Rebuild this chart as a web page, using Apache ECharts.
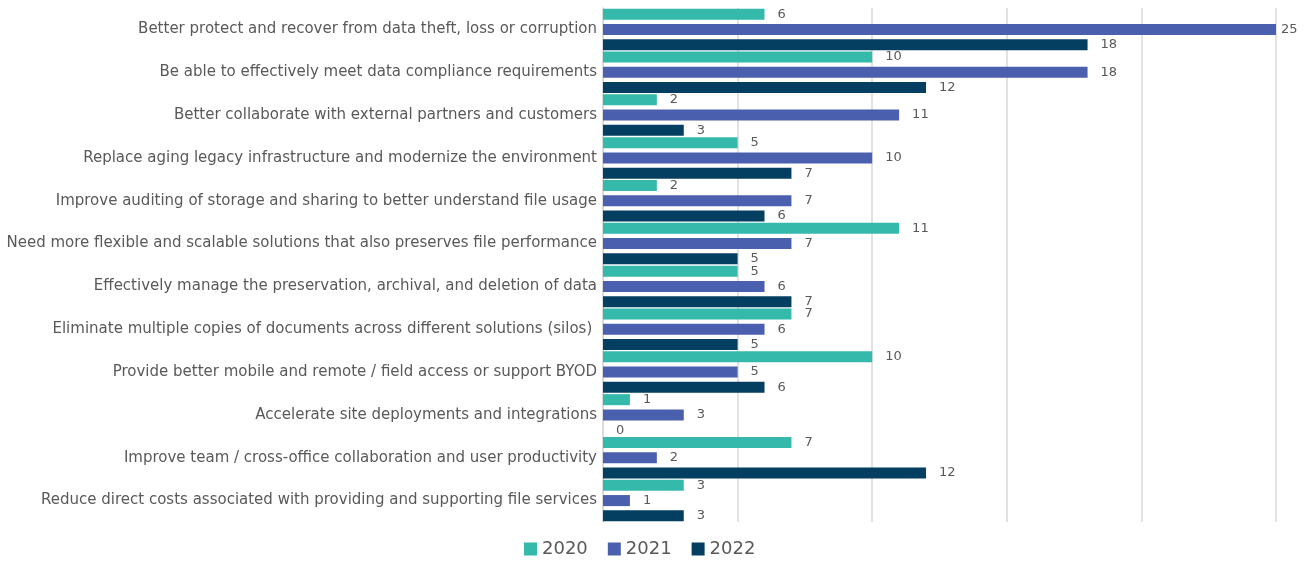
<!DOCTYPE html>
<html>
<head>
<meta charset="utf-8">
<script src="https://cdn.jsdelivr.net/npm/echarts@6/dist/echarts.min.js"></script>
<style>
  html, body { margin: 0; padding: 0; background: #fff; }
  #main { width: 1308px; height: 561px; }
</style>
</head>
<body>
<div id="main"></div>
<script>
// categories, top to bottom
const categories = [
  'Better protect and recover from data theft, loss or corruption',
  'Be able to effectively meet data compliance requirements',
  'Better collaborate with external partners and customers',
  'Replace aging legacy infrastructure and modernize the environment',
  'Improve auditing of storage and sharing to better understand file usage',
  'Need more flexible and scalable solutions that also preserves file performance',
  'Effectively manage the preservation, archival, and deletion of data',
  'Eliminate multiple copies of documents across different solutions (silos) ',
  'Provide better mobile and remote / field access or support BYOD',
  'Accelerate site deployments and integrations',
  'Improve team / cross-office collaboration and user productivity',
  'Reduce direct costs associated with providing and supporting file services'
];
const years = ['2020', '2021', '2022'];
const values2020 = [6, 10, 2, 5, 2, 11, 5, 7, 10, 1, 7, 3];
const values2021 = [25, 18, 11, 10, 7, 7, 6, 6, 5, 3, 2, 1];
const values2022 = [18, 12, 3, 7, 6, 5, 7, 5, 6, 0, 12, 3];
const xMax = 25;

const colors = ['#35b9ab', '#4a5fae', '#043e60'];
const textColor = '#595959';
const font = '"DejaVu Sans", sans-serif';

var myChart = echarts.init(document.getElementById('main'));

function makeSeries(name, data, color) {
  return {
    name: name,
    type: 'bar',
    // bars that reach the end of the axis keep their label closer
    data: data.map(v => v >= xMax ? { value: v, label: { distance: 5 } } : v),
    barGap: '38%',
    barCategoryGap: '3%',
    itemStyle: { color: color },
    label: {
      show: true,
      position: 'right',
      distance: 13,
      color: textColor,
      fontSize: 13,
      fontFamily: font
    }
  };
}

myChart.setOption({
  animation: false,
  color: colors,
  grid: { left: 603, right: 32, top: 8, bottom: 39, containLabel: false },
  legend: {
    bottom: -2,
    left: 519,
    itemWidth: 13,
    itemHeight: 13,
    itemGap: 20,
    icon: 'rect',
    textStyle: { color: textColor, fontSize: 18, fontFamily: font },
    data: years
  },
  xAxis: {
    type: 'value',
    min: 0,
    max: xMax,
    interval: 5,
    axisLabel: { show: false },
    axisLine: { show: false },
    axisTick: { show: false },
    splitLine: { lineStyle: { color: '#d9d9d9', width: 1.5 } }
  },
  yAxis: {
    type: 'category',
    inverse: true,
    data: categories,
    axisLine: { show: true, lineStyle: { color: '#d9d9d9', width: 1.5 } },
    axisTick: { show: false },
    axisLabel: {
      color: textColor, fontSize: 15, fontFamily: font, margin: 6,
      padding: [4, 0, 0, 0]
    }
  },
  series: [
    makeSeries(years[0], values2020, colors[0]),
    makeSeries(years[1], values2021, colors[1]),
    makeSeries(years[2], values2022, colors[2])
  ]
});
</script>
</body>
</html>
